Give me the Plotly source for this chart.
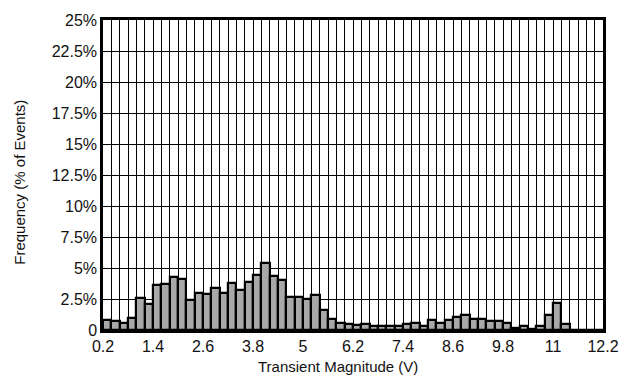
import numpy as np
import plotly.graph_objects as go

# Histogram of transient magnitudes: 0.2 V wide bins from 0.2 V to 12.2 V
bin_width = 0.2
bin_start = 0.2
frequency_pct = [
    0.8, 0.75, 0.6, 0.95, 2.6, 2.1, 3.65, 3.75, 4.25, 4.15,
    2.4, 3.0, 2.9, 3.35, 2.95, 3.8, 3.2, 3.9, 4.45, 5.4,
    4.35, 4.0, 2.65, 2.7, 2.5, 2.85, 1.65, 0.85, 0.6, 0.5,
    0.4, 0.45, 0.35, 0.35, 0.3, 0.3, 0.45, 0.55, 0.35, 0.8,
    0.6, 0.8, 1.05, 1.2, 0.9, 0.85, 0.7, 0.7, 0.55, 0.2,
    0.35, 0.1, 0.3, 1.25, 2.2, 0.45, 0.0, 0.0, 0.0, 0.0,
]
x_tick_vals = [0.2, 1.4, 2.6, 3.8, 5.0, 6.2, 7.4, 8.6, 9.8, 11.0, 12.2]
x_tick_text = ["0.2", "1.4", "2.6", "3.8", "5", "6.2", "7.4", "8.6", "9.8", "11", "12.2"]
y_tick_vals = [0, 2.5, 5, 7.5, 10, 12.5, 15, 17.5, 20, 22.5, 25]
y_tick_text = ["0", "2.5%", "5%", "7.5%", "10%", "12.5%", "15%", "17.5%", "20%", "22.5%", "25%"]

centers = bin_start + bin_width * (np.arange(len(frequency_pct)) + 0.5)

family = "Liberation Sans, Arial, sans-serif"
tick_font = dict(family=family, size=16, color="#111111")
title_font = dict(family=family, size=15, color="#111111")

fig = go.Figure(
    go.Bar(
        x=centers,
        y=frequency_pct,
        width=bin_width,
        marker=dict(color="#a8a8a8", line=dict(color="black", width=2.2)),
    )
)

fig.update_layout(
    width=631,
    height=381,
    margin=dict(l=103, r=28, t=14, b=51),
    paper_bgcolor="white",
    plot_bgcolor="white",
    showlegend=False,
    bargap=0,
    annotations=[
        dict(
            text="Transient Magnitude (V)",
            xref="paper", yref="paper",
            x=0.469, y=-0.117,
            xanchor="center", yanchor="middle",
            showarrow=False, font=title_font,
        ),
        dict(
            text="Frequency (% of Events)",
            xref="paper", yref="paper",
            x=-0.166, y=0.475,
            xanchor="center", yanchor="middle",
            textangle=-90,
            showarrow=False, font=title_font,
        ),
    ],
)

fig.update_xaxes(
    range=[0.2, 12.2],
    tickmode="array",
    tickvals=x_tick_vals,
    ticktext=x_tick_text,
    ticks="",
    showgrid=True,
    gridcolor="black",
    gridwidth=1,
    minor=dict(tick0=0.2, dtick=0.2, showgrid=True, gridcolor="black", gridwidth=1),
    showline=True,
    linecolor="black",
    linewidth=2.5,
    mirror=True,
    zeroline=False,
    tickfont=tick_font,
)

fig.update_yaxes(
    range=[0, 25],
    tickmode="array",
    tickvals=y_tick_vals,
    ticktext=y_tick_text,
    ticks="",
    showgrid=True,
    gridcolor="black",
    gridwidth=1,
    showline=True,
    linecolor="black",
    linewidth=2.5,
    mirror=True,
    zeroline=False,
    tickfont=tick_font,
)

fig.write_html("out.html")
